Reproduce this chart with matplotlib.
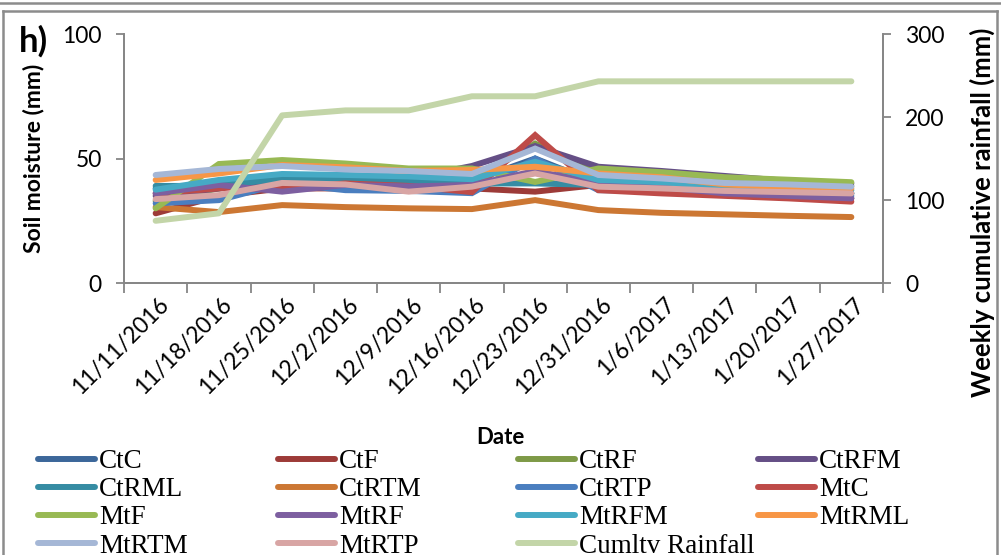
import numpy as np
import matplotlib.pyplot as plt
from matplotlib.lines import Line2D
from matplotlib.transforms import ScaledTranslation

dates = ['11/11/2016', '11/18/2016', '11/25/2016', '12/2/2016', '12/9/2016', '12/16/2016',
         '12/23/2016', '12/31/2016', '1/6/2017', '1/13/2017', '1/20/2017', '1/27/2017']

# soil moisture per treatment (mm)
CtC   = [38.0, 40.0, 43.0, 42.0, 41.0, 41.0, 50.0, 40.0, 39.0, 37.0, 36.5, 36.0]
CtF   = [28.0, 35.0, 38.0, 38.0, 38.0, 38.0, 36.7, 39.4, 37.0, 36.0, 35.0, 34.0]
CtRF  = [33.0, 38.0, 42.0, 42.0, 41.0, 41.0, 56.0, 44.0, 43.0, 41.0, 40.0, 39.0]
CtRFM = [35.0, 38.0, 41.0, 42.0, 42.0, 47.0, 55.0, 46.7, 45.0, 43.0, 41.0, 40.0]
CtRML = [39.0, 39.0, 42.0, 41.5, 41.0, 40.0, 40.0, 39.4, 38.5, 37.0, 37.0, 36.0]
CtRTM = [30.5, 28.5, 31.3, 30.5, 30.0, 29.7, 33.3, 29.3, 28.2, 27.6, 27.0, 26.5]
CtRTP = [32.0, 33.3, 40.0, 37.3, 37.0, 36.1, 50.0, 37.3, 37.0, 36.0, 35.5, 35.0]
MtC   = [36.0, 38.0, 38.0, 40.0, 39.0, 36.5, 59.4, 37.3, 36.0, 35.0, 34.0, 32.7]
MtF   = [30.0, 47.8, 49.4, 48.0, 46.0, 46.0, 40.6, 46.0, 44.5, 42.5, 41.5, 40.5]
MtRF  = [36.0, 39.4, 36.7, 39.4, 38.8, 39.4, 45.0, 40.0, 38.5, 36.0, 35.0, 34.0]
MtRFM = [37.5, 41.4, 43.8, 43.4, 42.8, 41.7, 48.7, 41.4, 40.5, 38.7, 38.5, 37.3]
MtRML = [41.4, 44.0, 47.4, 46.5, 45.0, 45.4, 46.7, 44.0, 42.5, 39.6, 38.5, 38.0]
MtRTM = [43.4, 45.8, 47.0, 45.6, 45.0, 43.8, 54.0, 43.4, 42.0, 40.2, 39.6, 38.7]
MtRTP = [33.7, 35.3, 40.2, 39.6, 36.7, 38.7, 44.0, 38.7, 38.0, 37.0, 36.5, 36.0]

# weekly cumulative rainfall (mm)
rainfall = [75, 84, 202, 208, 208, 225, 225, 243, 243, 243, 243, 243]

names = ['CtC', 'CtF', 'CtRF', 'CtRFM', 'CtRML', 'CtRTM', 'CtRTP',
         'MtC', 'MtF', 'MtRF', 'MtRFM', 'MtRML', 'MtRTM', 'MtRTP']
series = [CtC, CtF, CtRF, CtRFM, CtRML, CtRTM, CtRTP,
          MtC, MtF, MtRF, MtRFM, MtRML, MtRTM, MtRTP]
colors = ['#3C679A', '#9D3B38', '#7E9A47', '#654F86', '#358CA3', '#CC7733', '#4A7EBF',
          '#BE4B48', '#98B954', '#7D5FA0', '#46AAC5', '#F79646', '#A5B7D6', '#D8A5A4']
rain_color = '#C3D5A8'

plt.rcParams['font.family'] = ['Lato', 'DejaVu Sans']
grey = '#868686'
lw = 4.3

fig = plt.figure(figsize=(10.01, 5.55), dpi=100)
ax = fig.add_axes([0.1239, 0.49, 0.7582, 0.4487])
ax2 = ax.twinx()

x = np.arange(len(dates))
handles = []
for name, vals, c in zip(names, series, colors):
    h, = ax.plot(x, vals, color=c, lw=lw, solid_capstyle='round', solid_joinstyle='miter', label=name)
    handles.append(h)
hr, = ax2.plot(x, rainfall, color=rain_color, lw=lw, solid_capstyle='round', label='Cumltv Rainfall')
handles.append(hr)

ax.set_xlim(-0.5, len(dates) - 0.5)
ax.set_ylim(0, 100)
ax2.set_ylim(0, 300)
ax.set_yticks([0, 50, 100])
ax2.set_yticks([0, 100, 200, 300])

for a in (ax, ax2):
    for s in a.spines.values():
        s.set_color(grey)
        s.set_linewidth(1.3)
    a.spines['top'].set_visible(False)
ax.tick_params(axis='y', length=6, width=1.3, color=grey, labelsize=16.5, pad=10)
ax2.tick_params(axis='y', length=6, width=1.3, color=grey, labelsize=16.5, pad=10)

# category ticks sit between dates, labels at the dates
ax.set_xticks(np.arange(-0.5, len(dates)), minor=True)
ax.set_xticks(x)
ax.tick_params(axis='x', which='minor', length=7, width=1.3, color=grey)
ax.tick_params(axis='x', which='major', length=0, pad=13)
ax.set_xticklabels(dates, rotation=45, ha='right', va='center', rotation_mode='anchor', fontsize=16.5)
for lab in ax.get_xticklabels():
    lab.set_transform(lab.get_transform() + ScaledTranslation(0.1, 0, fig.dpi_scale_trans))

ax.set_ylabel('Soil moisture (mm)', fontsize=16.5, fontweight='bold')
ax.yaxis.set_label_coords(-80 / 759, 0.5)
ax2.set_ylabel('Weekly cumulative rainfall (mm)', fontsize=18.5, fontweight='bold')
ax2.yaxis.set_label_coords(1 + 87 / 759, 0.285)
fig.text(0.5, 1 - 438 / 555, 'Date', fontsize=16, fontweight='bold', ha='center', va='center')
fig.text(0.019, 1 - 41 / 555, 'h)', fontsize=25, fontweight='bold', ha='left', va='center')

# legend laid out row by row in four columns
col_x = [38, 278, 518, 758]
for ci, cx in enumerate(col_x):
    hs = handles[ci::4]
    fig.legend(handles=hs, labels=[h.get_label() for h in hs], loc='upper left',
               bbox_to_anchor=(cx / 1001, 1 - 449 / 555), frameon=False,
               prop={'family': 'Liberation Serif', 'size': 19.5}, handlelength=2.1,
               handletextpad=0.15, labelspacing=0.12, borderpad=0, borderaxespad=0)

# panel frame
fig.add_artist(Line2D([0, 1], [1 - 3 / 555] * 2, color='#8C8C8C', lw=1.8))
fig.add_artist(Line2D([3 / 1001, 997 / 1001], [1 - 10.5 / 555] * 2, color='#8C8C8C', lw=1.8))
fig.add_artist(Line2D([3 / 1001] * 2, [0, 1 - 10.5 / 555], color='#8C8C8C', lw=1.8))
fig.add_artist(Line2D([997 / 1001] * 2, [0, 1 - 10.5 / 555], color='#8C8C8C', lw=1.8))

fig.savefig('out.png', dpi=100)
